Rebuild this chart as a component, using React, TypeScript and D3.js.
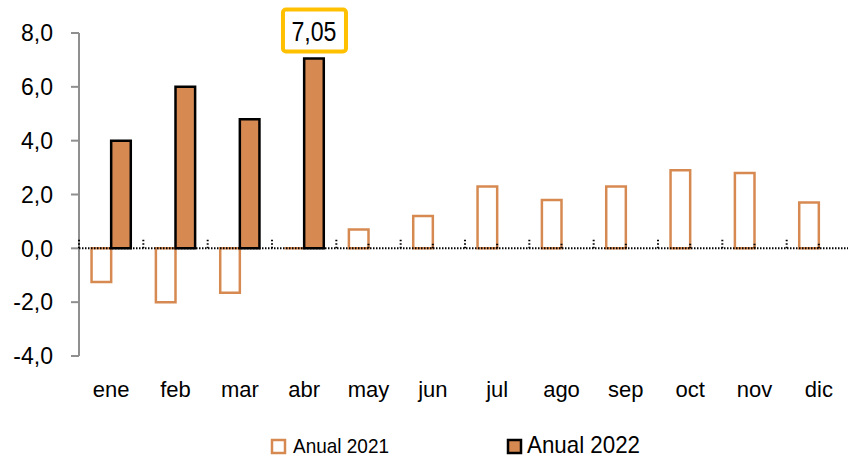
import React from 'react';
import { scaleLinear, scaleBand, path } from 'd3';

const months = ['ene', 'feb', 'mar', 'abr', 'may', 'jun', 'jul', 'ago', 'sep', 'oct', 'nov', 'dic'];
const anual2021 = [-1.25, -2.0, -1.65, 0.0, 0.7, 1.2, 2.3, 1.8, 2.3, 2.9, 2.8, 1.7];
const anual2022 = [4.0, 6.0, 4.8, 7.05, null, null, null, null, null, null, null, null];
const yTicks = [-4, -2, 0, 2, 4, 6, 8];
const seriesNames = ['Anual 2021', 'Anual 2022'];

const width = 848;
const height = 458;
const orange = '#D68A52';
const font = '"Liberation Sans", Arial, sans-serif';

const fmt = (v: number, d = 1) => v.toFixed(d).replace('.', ',');

export default function App() {
  const margin = { top: 33, left: 79, bottom: 103 };
  const y = scaleLinear().domain([-4, 8]).range([height - margin.bottom + 1, margin.top]);
  const x = scaleBand().domain(months).range([margin.left, 851]).paddingInner(0).paddingOuter(0);
  const inner = scaleBand().domain(['2021', '2022']).range([0, x.bandwidth()]).paddingInner(0).paddingOuter(0.64);
  const bw = inner.bandwidth();
  const y0 = y(0);

  const barPath = (bx: number, v: number) => {
    const p = path();
    p.moveTo(bx, y0);
    p.lineTo(bx, y(v));
    p.lineTo(bx + bw, y(v));
    p.lineTo(bx + bw, y0);
    p.closePath();
    return p.toString();
  };

  // highlighted value (max of 2022)
  const hiIdx = 3;
  const hiX = (x(months[hiIdx]) as number) + (inner('2022') as number) + bw / 2;
  const hiY = y(anual2022[hiIdx] as number);

  return (
    <svg width={width} height={height} style={{ position: 'absolute', left: 0, top: 0, background: '#fff' }} fontFamily={font}>
      {/* y axis */}
      <line x1={margin.left} x2={margin.left} y1={y(8)} y2={y(-4)} stroke="#8f8f8f" strokeWidth={2} />
      {yTicks.map(t => (
        <g key={t}>
          <line x1={margin.left - 8} x2={margin.left} y1={y(t)} y2={y(t)} stroke="#8f8f8f" strokeWidth={2} />
          <text x={53} y={y(t)} dy="0.36em" textAnchor="end" fontSize={23} fill="#000">{fmt(t)}</text>
        </g>
      ))}

      {/* bars 2021 (open) */}
      {anual2021.map((v, i) => (
        <path key={'a' + i} d={barPath((x(months[i]) as number) + (inner('2021') as number), v)}
          fill="#fff" stroke={orange} strokeWidth={2.5} />
      ))}
      {/* bars 2022 (filled) */}
      {anual2022.map((v, i) => v === null ? null : (
        <path key={'b' + i} d={barPath((x(months[i]) as number) + (inner('2022') as number), v)}
          fill={orange} stroke="#000" strokeWidth={2.5} />
      ))}

      {/* dotted zero line and category ticks */}
      <line x1={margin.left} x2={width} y1={y0} y2={y0} stroke="#000" strokeWidth={2} strokeDasharray="1.5,1.5" />
      {months.map((m, i) => (
        <g key={'t' + m}>
          <line x1={x(m) as number} x2={x(m) as number} y1={y0} y2={y0 - 9} stroke="#000" strokeWidth={2} strokeDasharray="1.5,2" />
          {anual2022[i] === null && (
            <line x1={(x(m) as number) + (inner('2022') as number)} x2={(x(m) as number) + (inner('2022') as number)}
              y1={y0} y2={y0 - 6} stroke="#000" strokeWidth={2} strokeDasharray="1.5,1.5" />
          )}
        </g>
      ))}

      {/* x labels */}
      {months.map(m => (
        <text key={'l' + m} x={(x(m) as number) + x.bandwidth() / 2} y={397} textAnchor="middle" fontSize={22} fill="#000">{m}</text>
      ))}

      {/* annotation */}
      <rect x={hiX - 31} y={hiY - 49} width={63} height={42} rx={3} fill="#fff" stroke="#FFC000" strokeWidth={4} />
      <text x={hiX} y={hiY - 18} textAnchor="middle" fontSize={27} textLength={45} lengthAdjust="spacingAndGlyphs" fill="#000">
        {fmt(anual2022[hiIdx] as number, 2)}
      </text>

      {/* legend */}
      <rect x={272} y={440} width={13} height={13} fill="#fff" stroke={orange} strokeWidth={2.5} />
      <text x={293} y={453} fontSize={21} textLength={96} lengthAdjust="spacingAndGlyphs" fill="#000">{seriesNames[0]}</text>
      <rect x={508} y={440} width={13} height={13} fill={orange} stroke="#000" strokeWidth={2.5} />
      <text x={527} y={453} fontSize={24} textLength={113} lengthAdjust="spacingAndGlyphs" fill="#000">{seriesNames[1]}</text>
    </svg>
  );
}
